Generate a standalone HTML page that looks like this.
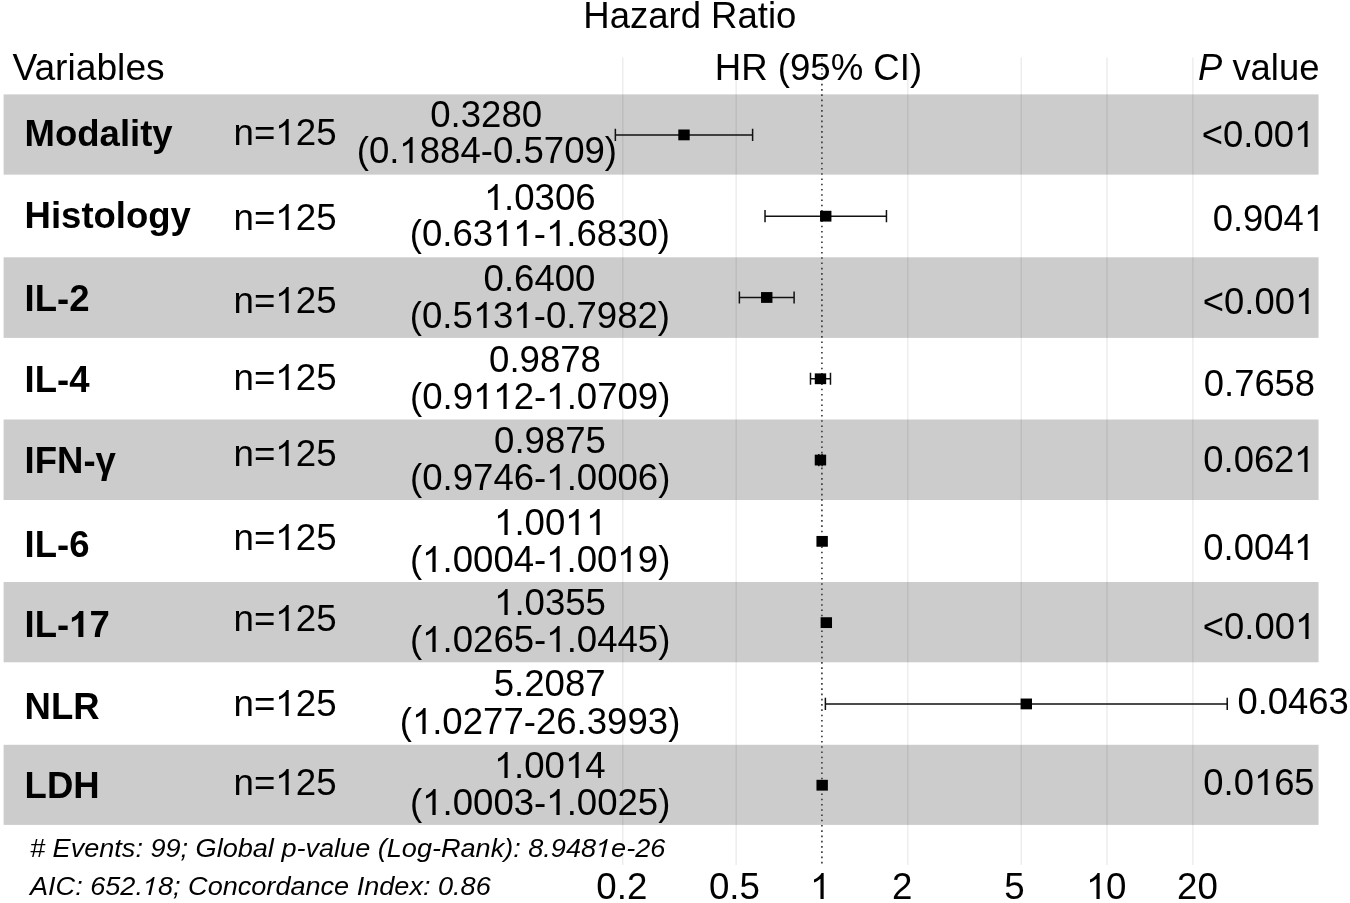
<!DOCTYPE html>
<html><head><meta charset="utf-8"><title>Hazard Ratio</title>
<style>
html,body{margin:0;padding:0;background:#fff;}
html{width:1350px;height:903px;overflow:hidden;}
body{width:1350px;height:903px;position:relative;overflow:hidden;font-family:"Liberation Sans",sans-serif;color:#000;}
.t{position:absolute;white-space:nowrap;}
#g{position:absolute;left:0;top:0;}
.o{display:inline-block;width:0.5562em;height:26px;overflow:visible;}
.s .o{height:18px;}
.o svg{display:block;width:100%;height:100%;overflow:visible;}
#w{position:absolute;left:0;top:0;width:1350px;height:903px;will-change:transform;overflow:hidden;}
</style></head><body>
<svg id="g" width="1350" height="903" viewBox="0 0 1350 903">
<rect x="3.6" y="94.40" width="1314.95" height="80.25" fill="#cccccc"/>
<rect x="3.6" y="257.30" width="1314.95" height="80.60" fill="#cccccc"/>
<rect x="3.6" y="419.50" width="1314.95" height="80.50" fill="#cccccc"/>
<rect x="3.6" y="582.00" width="1314.95" height="80.30" fill="#cccccc"/>
<rect x="3.6" y="744.80" width="1314.95" height="80.10" fill="#cccccc"/>
<line x1="622.76" y1="57.5" x2="622.76" y2="865" stroke="#000" stroke-opacity="0.075" stroke-width="1.5"/>
<line x1="736.19" y1="57.5" x2="736.19" y2="865" stroke="#000" stroke-opacity="0.075" stroke-width="1.5"/>
<line x1="907.81" y1="57.5" x2="907.81" y2="865" stroke="#000" stroke-opacity="0.075" stroke-width="1.5"/>
<line x1="1021.24" y1="57.5" x2="1021.24" y2="865" stroke="#000" stroke-opacity="0.075" stroke-width="1.5"/>
<line x1="1107.05" y1="57.5" x2="1107.05" y2="865" stroke="#000" stroke-opacity="0.075" stroke-width="1.5"/>
<line x1="1192.86" y1="57.5" x2="1192.86" y2="865" stroke="#000" stroke-opacity="0.075" stroke-width="1.5"/>
<line x1="821.90" y1="57.5" x2="821.90" y2="865" stroke="#404040" stroke-width="1.7" stroke-dasharray="1.6 3.657" />
<path d="M615.36 134.90H752.61M615.36 128.80V141.00M752.61 128.80V141.00" stroke="#111" stroke-width="1.5" fill="none"/>
<rect x="678.30" y="129.50" width="11.4" height="10.8" fill="#000"/>
<path d="M765.02 216.19H886.45M765.02 210.09V222.29M886.45 210.09V222.29" stroke="#111" stroke-width="1.5" fill="none"/>
<rect x="820.03" y="210.79" width="11.4" height="10.8" fill="#000"/>
<path d="M739.39 297.48H794.10M739.39 291.38V303.58M794.10 291.38V303.58" stroke="#111" stroke-width="1.5" fill="none"/>
<rect x="761.05" y="292.08" width="11.4" height="10.8" fill="#000"/>
<path d="M810.49 378.77H830.48M810.49 372.67V384.87M830.48 372.67V384.87" stroke="#111" stroke-width="1.5" fill="none"/>
<rect x="814.78" y="373.37" width="11.4" height="10.8" fill="#000"/>
<path d="M818.81 460.06H822.07M818.81 453.96V466.16M822.07 453.96V466.16" stroke="#111" stroke-width="1.5" fill="none"/>
<rect x="814.74" y="454.66" width="11.4" height="10.8" fill="#000"/>
<rect x="816.44" y="535.95" width="11.4" height="10.8" fill="#000"/>
<rect x="820.62" y="617.24" width="11.4" height="10.8" fill="#000"/>
<path d="M825.38 703.93H1227.22M825.38 697.83V710.03M1227.22 697.83V710.03" stroke="#111" stroke-width="1.5" fill="none"/>
<rect x="1020.60" y="698.53" width="11.4" height="10.8" fill="#000"/>
<rect x="816.47" y="779.82" width="11.4" height="10.8" fill="#000"/>
</svg>
<div id="w">
<div class="t" style="top:116px;font-size:36.5px;line-height:36.5px;font-weight:bold;left:24.60px;">Modality</div>
<div class="t" style="top:115px;font-size:36.7px;line-height:36.7px;left:233.50px;">n=<span class="o"><svg viewBox="0 0 1139 1409" preserveAspectRatio="none"><path d="M763 1409H583V311Q518 370 412 430T223 519V352Q374 284 487 188T647 0H763Z"/></svg></span>25</div>
<div class="t" style="top:97px;font-size:36.6px;line-height:36.6px;left:86.20px;width:800px;text-align:center;">0.3280</div>
<div class="t" style="top:133px;font-size:36.6px;line-height:36.6px;left:86.90px;width:800px;text-align:center;">(0.<span class="o"><svg viewBox="0 0 1139 1409" preserveAspectRatio="none"><path d="M763 1409H583V311Q518 370 412 430T223 519V352Q374 284 487 188T647 0H763Z"/></svg></span>884-0.5709)</div>
<div class="t" style="top:117px;font-size:36.4px;line-height:36.4px;left:1201.80px;">&lt;0.00<span class="o"><svg viewBox="0 0 1139 1409" preserveAspectRatio="none"><path d="M763 1409H583V311Q518 370 412 430T223 519V352Q374 284 487 188T647 0H763Z"/></svg></span></div>
<div class="t" style="top:198px;font-size:36.5px;line-height:36.5px;font-weight:bold;left:24.60px;">Histology</div>
<div class="t" style="top:200px;font-size:36.7px;line-height:36.7px;left:233.50px;">n=<span class="o"><svg viewBox="0 0 1139 1409" preserveAspectRatio="none"><path d="M763 1409H583V311Q518 370 412 430T223 519V352Q374 284 487 188T647 0H763Z"/></svg></span>25</div>
<div class="t" style="top:180px;font-size:36.6px;line-height:36.6px;left:139.70px;width:800px;text-align:center;"><span class="o"><svg viewBox="0 0 1139 1409" preserveAspectRatio="none"><path d="M763 1409H583V311Q518 370 412 430T223 519V352Q374 284 487 188T647 0H763Z"/></svg></span>.0306</div>
<div class="t" style="top:216px;font-size:36.6px;line-height:36.6px;left:139.90px;width:800px;text-align:center;">(0.63<span class="o"><svg viewBox="0 0 1139 1409" preserveAspectRatio="none"><path d="M763 1409H583V311Q518 370 412 430T223 519V352Q374 284 487 188T647 0H763Z"/></svg></span><span class="o"><svg viewBox="0 0 1139 1409" preserveAspectRatio="none"><path d="M763 1409H583V311Q518 370 412 430T223 519V352Q374 284 487 188T647 0H763Z"/></svg></span>-<span class="o"><svg viewBox="0 0 1139 1409" preserveAspectRatio="none"><path d="M763 1409H583V311Q518 370 412 430T223 519V352Q374 284 487 188T647 0H763Z"/></svg></span>.6830)</div>
<div class="t" style="top:201px;font-size:36.4px;line-height:36.4px;left:1212.70px;">0.904<span class="o"><svg viewBox="0 0 1139 1409" preserveAspectRatio="none"><path d="M763 1409H583V311Q518 370 412 430T223 519V352Q374 284 487 188T647 0H763Z"/></svg></span></div>
<div class="t" style="top:281px;font-size:36.5px;line-height:36.5px;font-weight:bold;left:24.60px;">IL-2</div>
<div class="t" style="top:283px;font-size:36.7px;line-height:36.7px;left:233.50px;">n=<span class="o"><svg viewBox="0 0 1139 1409" preserveAspectRatio="none"><path d="M763 1409H583V311Q518 370 412 430T223 519V352Q374 284 487 188T647 0H763Z"/></svg></span>25</div>
<div class="t" style="top:261px;font-size:36.6px;line-height:36.6px;left:139.50px;width:800px;text-align:center;">0.6400</div>
<div class="t" style="top:298px;font-size:36.6px;line-height:36.6px;left:139.90px;width:800px;text-align:center;">(0.5<span class="o"><svg viewBox="0 0 1139 1409" preserveAspectRatio="none"><path d="M763 1409H583V311Q518 370 412 430T223 519V352Q374 284 487 188T647 0H763Z"/></svg></span>3<span class="o"><svg viewBox="0 0 1139 1409" preserveAspectRatio="none"><path d="M763 1409H583V311Q518 370 412 430T223 519V352Q374 284 487 188T647 0H763Z"/></svg></span>-0.7982)</div>
<div class="t" style="top:284px;font-size:36.4px;line-height:36.4px;left:1202.80px;">&lt;0.00<span class="o"><svg viewBox="0 0 1139 1409" preserveAspectRatio="none"><path d="M763 1409H583V311Q518 370 412 430T223 519V352Q374 284 487 188T647 0H763Z"/></svg></span></div>
<div class="t" style="top:362px;font-size:36.5px;line-height:36.5px;font-weight:bold;left:24.60px;">IL-4</div>
<div class="t" style="top:360px;font-size:36.7px;line-height:36.7px;left:233.50px;">n=<span class="o"><svg viewBox="0 0 1139 1409" preserveAspectRatio="none"><path d="M763 1409H583V311Q518 370 412 430T223 519V352Q374 284 487 188T647 0H763Z"/></svg></span>25</div>
<div class="t" style="top:342px;font-size:36.6px;line-height:36.6px;left:145.00px;width:800px;text-align:center;">0.9878</div>
<div class="t" style="top:379px;font-size:36.6px;line-height:36.6px;left:140.20px;width:800px;text-align:center;">(0.9<span class="o"><svg viewBox="0 0 1139 1409" preserveAspectRatio="none"><path d="M763 1409H583V311Q518 370 412 430T223 519V352Q374 284 487 188T647 0H763Z"/></svg></span><span class="o"><svg viewBox="0 0 1139 1409" preserveAspectRatio="none"><path d="M763 1409H583V311Q518 370 412 430T223 519V352Q374 284 487 188T647 0H763Z"/></svg></span>2-<span class="o"><svg viewBox="0 0 1139 1409" preserveAspectRatio="none"><path d="M763 1409H583V311Q518 370 412 430T223 519V352Q374 284 487 188T647 0H763Z"/></svg></span>.0709)</div>
<div class="t" style="top:366px;font-size:36.4px;line-height:36.4px;left:1203.80px;">0.7658</div>
<div class="t" style="top:443px;font-size:36.5px;line-height:36.5px;font-weight:bold;left:24.60px;">IFN-&gamma;</div>
<div class="t" style="top:436px;font-size:36.7px;line-height:36.7px;left:233.50px;">n=<span class="o"><svg viewBox="0 0 1139 1409" preserveAspectRatio="none"><path d="M763 1409H583V311Q518 370 412 430T223 519V352Q374 284 487 188T647 0H763Z"/></svg></span>25</div>
<div class="t" style="top:423px;font-size:36.6px;line-height:36.6px;left:150.00px;width:800px;text-align:center;">0.9875</div>
<div class="t" style="top:460px;font-size:36.6px;line-height:36.6px;left:140.20px;width:800px;text-align:center;">(0.9746-<span class="o"><svg viewBox="0 0 1139 1409" preserveAspectRatio="none"><path d="M763 1409H583V311Q518 370 412 430T223 519V352Q374 284 487 188T647 0H763Z"/></svg></span>.0006)</div>
<div class="t" style="top:442px;font-size:36.4px;line-height:36.4px;left:1203.30px;">0.062<span class="o"><svg viewBox="0 0 1139 1409" preserveAspectRatio="none"><path d="M763 1409H583V311Q518 370 412 430T223 519V352Q374 284 487 188T647 0H763Z"/></svg></span></div>
<div class="t" style="top:527px;font-size:36.5px;line-height:36.5px;font-weight:bold;left:24.60px;">IL-6</div>
<div class="t" style="top:520px;font-size:36.7px;line-height:36.7px;left:233.50px;">n=<span class="o"><svg viewBox="0 0 1139 1409" preserveAspectRatio="none"><path d="M763 1409H583V311Q518 370 412 430T223 519V352Q374 284 487 188T647 0H763Z"/></svg></span>25</div>
<div class="t" style="top:505px;font-size:36.6px;line-height:36.6px;left:150.00px;width:800px;text-align:center;"><span class="o"><svg viewBox="0 0 1139 1409" preserveAspectRatio="none"><path d="M763 1409H583V311Q518 370 412 430T223 519V352Q374 284 487 188T647 0H763Z"/></svg></span>.00<span class="o"><svg viewBox="0 0 1139 1409" preserveAspectRatio="none"><path d="M763 1409H583V311Q518 370 412 430T223 519V352Q374 284 487 188T647 0H763Z"/></svg></span><span class="o"><svg viewBox="0 0 1139 1409" preserveAspectRatio="none"><path d="M763 1409H583V311Q518 370 412 430T223 519V352Q374 284 487 188T647 0H763Z"/></svg></span></div>
<div class="t" style="top:542px;font-size:36.6px;line-height:36.6px;left:140.20px;width:800px;text-align:center;">(<span class="o"><svg viewBox="0 0 1139 1409" preserveAspectRatio="none"><path d="M763 1409H583V311Q518 370 412 430T223 519V352Q374 284 487 188T647 0H763Z"/></svg></span>.0004-<span class="o"><svg viewBox="0 0 1139 1409" preserveAspectRatio="none"><path d="M763 1409H583V311Q518 370 412 430T223 519V352Q374 284 487 188T647 0H763Z"/></svg></span>.00<span class="o"><svg viewBox="0 0 1139 1409" preserveAspectRatio="none"><path d="M763 1409H583V311Q518 370 412 430T223 519V352Q374 284 487 188T647 0H763Z"/></svg></span>9)</div>
<div class="t" style="top:530px;font-size:36.4px;line-height:36.4px;left:1203.30px;">0.004<span class="o"><svg viewBox="0 0 1139 1409" preserveAspectRatio="none"><path d="M763 1409H583V311Q518 370 412 430T223 519V352Q374 284 487 188T647 0H763Z"/></svg></span></div>
<div class="t" style="top:607px;font-size:36.5px;line-height:36.5px;font-weight:bold;left:24.60px;">IL-<span class="o"><svg viewBox="0 0 1139 1409" preserveAspectRatio="none"><path d="M806 1409H525V395Q371 533 162 599V355Q272 320 401 224T578 0H806Z"/></svg></span>7</div>
<div class="t" style="top:601px;font-size:36.7px;line-height:36.7px;left:233.50px;">n=<span class="o"><svg viewBox="0 0 1139 1409" preserveAspectRatio="none"><path d="M763 1409H583V311Q518 370 412 430T223 519V352Q374 284 487 188T647 0H763Z"/></svg></span>25</div>
<div class="t" style="top:585px;font-size:36.6px;line-height:36.6px;left:150.00px;width:800px;text-align:center;"><span class="o"><svg viewBox="0 0 1139 1409" preserveAspectRatio="none"><path d="M763 1409H583V311Q518 370 412 430T223 519V352Q374 284 487 188T647 0H763Z"/></svg></span>.0355</div>
<div class="t" style="top:622px;font-size:36.6px;line-height:36.6px;left:140.20px;width:800px;text-align:center;">(<span class="o"><svg viewBox="0 0 1139 1409" preserveAspectRatio="none"><path d="M763 1409H583V311Q518 370 412 430T223 519V352Q374 284 487 188T647 0H763Z"/></svg></span>.0265-<span class="o"><svg viewBox="0 0 1139 1409" preserveAspectRatio="none"><path d="M763 1409H583V311Q518 370 412 430T223 519V352Q374 284 487 188T647 0H763Z"/></svg></span>.0445)</div>
<div class="t" style="top:609px;font-size:36.4px;line-height:36.4px;left:1202.80px;">&lt;0.00<span class="o"><svg viewBox="0 0 1139 1409" preserveAspectRatio="none"><path d="M763 1409H583V311Q518 370 412 430T223 519V352Q374 284 487 188T647 0H763Z"/></svg></span></div>
<div class="t" style="top:689px;font-size:36.5px;line-height:36.5px;font-weight:bold;left:24.60px;">NLR</div>
<div class="t" style="top:686px;font-size:36.7px;line-height:36.7px;left:233.50px;">n=<span class="o"><svg viewBox="0 0 1139 1409" preserveAspectRatio="none"><path d="M763 1409H583V311Q518 370 412 430T223 519V352Q374 284 487 188T647 0H763Z"/></svg></span>25</div>
<div class="t" style="top:666px;font-size:36.6px;line-height:36.6px;left:149.70px;width:800px;text-align:center;">5.2087</div>
<div class="t" style="top:704px;font-size:36.6px;line-height:36.6px;left:140.00px;width:800px;text-align:center;">(<span class="o"><svg viewBox="0 0 1139 1409" preserveAspectRatio="none"><path d="M763 1409H583V311Q518 370 412 430T223 519V352Q374 284 487 188T647 0H763Z"/></svg></span>.0277-26.3993)</div>
<div class="t" style="top:684px;font-size:36.4px;line-height:36.4px;left:1237.50px;">0.0463</div>
<div class="t" style="top:768px;font-size:36.5px;line-height:36.5px;font-weight:bold;left:24.60px;">LDH</div>
<div class="t" style="top:765px;font-size:36.7px;line-height:36.7px;left:233.50px;">n=<span class="o"><svg viewBox="0 0 1139 1409" preserveAspectRatio="none"><path d="M763 1409H583V311Q518 370 412 430T223 519V352Q374 284 487 188T647 0H763Z"/></svg></span>25</div>
<div class="t" style="top:748px;font-size:36.6px;line-height:36.6px;left:149.70px;width:800px;text-align:center;"><span class="o"><svg viewBox="0 0 1139 1409" preserveAspectRatio="none"><path d="M763 1409H583V311Q518 370 412 430T223 519V352Q374 284 487 188T647 0H763Z"/></svg></span>.00<span class="o"><svg viewBox="0 0 1139 1409" preserveAspectRatio="none"><path d="M763 1409H583V311Q518 370 412 430T223 519V352Q374 284 487 188T647 0H763Z"/></svg></span>4</div>
<div class="t" style="top:785px;font-size:36.6px;line-height:36.6px;left:140.20px;width:800px;text-align:center;">(<span class="o"><svg viewBox="0 0 1139 1409" preserveAspectRatio="none"><path d="M763 1409H583V311Q518 370 412 430T223 519V352Q374 284 487 188T647 0H763Z"/></svg></span>.0003-<span class="o"><svg viewBox="0 0 1139 1409" preserveAspectRatio="none"><path d="M763 1409H583V311Q518 370 412 430T223 519V352Q374 284 487 188T647 0H763Z"/></svg></span>.0025)</div>
<div class="t" style="top:765px;font-size:36.4px;line-height:36.4px;left:1203.30px;">0.0<span class="o"><svg viewBox="0 0 1139 1409" preserveAspectRatio="none"><path d="M763 1409H583V311Q518 370 412 430T223 519V352Q374 284 487 188T647 0H763Z"/></svg></span>65</div>
<div class="t" style="top:-2px;font-size:36.5px;line-height:36.5px;left:583.30px;">Hazard Ratio</div>
<div class="t" style="top:49px;font-size:37.2px;line-height:37.2px;left:12.40px;">Variables</div>
<div class="t" style="top:50px;font-size:36.6px;line-height:36.6px;left:714.80px;">HR (95% CI)</div>
<div class="t" style="top:50px;font-size:36.4px;line-height:36.4px;right:30.60px;"><i>P</i> value</div>
<div class="t s" style="top:835px;font-size:26px;line-height:26px;font-style:italic;transform:scale(1.0416,1);transform-origin:0 22px;left:29.50px;"># Events: 99; Global p-value (Log-Rank): 8.948<span class="o"><svg viewBox="0 0 1139 1409" preserveAspectRatio="none"><path transform="matrix(1 0 -0.2126 1 158.5 0)" d="M763 1409H583V311Q518 370 412 430T223 519V352Q374 284 487 188T647 0H763Z"/></svg></span>e-26</div>
<div class="t s" style="top:873px;font-size:26px;line-height:26px;font-style:italic;transform:scale(1.0416,1);transform-origin:0 22px;left:29.50px;">AIC: 652.<span class="o"><svg viewBox="0 0 1139 1409" preserveAspectRatio="none"><path transform="matrix(1 0 -0.2126 1 158.5 0)" d="M763 1409H583V311Q518 370 412 430T223 519V352Q374 284 487 188T647 0H763Z"/></svg></span>8; Concordance Index: 0.86</div>
<div class="t" style="top:869px;font-size:36.7px;line-height:36.7px;left:596.30px;">0.2</div>
<div class="t" style="top:869px;font-size:36.7px;line-height:36.7px;left:708.90px;">0.5</div>
<div class="t" style="top:869px;font-size:36.7px;line-height:36.7px;left:810.00px;"><span class="o"><svg viewBox="0 0 1139 1409" preserveAspectRatio="none"><path d="M763 1409H583V311Q518 370 412 430T223 519V352Q374 284 487 188T647 0H763Z"/></svg></span></div>
<div class="t" style="top:869px;font-size:36.7px;line-height:36.7px;left:892.00px;">2</div>
<div class="t" style="top:869px;font-size:36.7px;line-height:36.7px;left:1004.30px;">5</div>
<div class="t" style="top:869px;font-size:36.7px;line-height:36.7px;left:1085.50px;"><span class="o"><svg viewBox="0 0 1139 1409" preserveAspectRatio="none"><path d="M763 1409H583V311Q518 370 412 430T223 519V352Q374 284 487 188T647 0H763Z"/></svg></span>0</div>
<div class="t" style="top:869px;font-size:36.7px;line-height:36.7px;left:1177.00px;">20</div>
</div>
</body></html>
